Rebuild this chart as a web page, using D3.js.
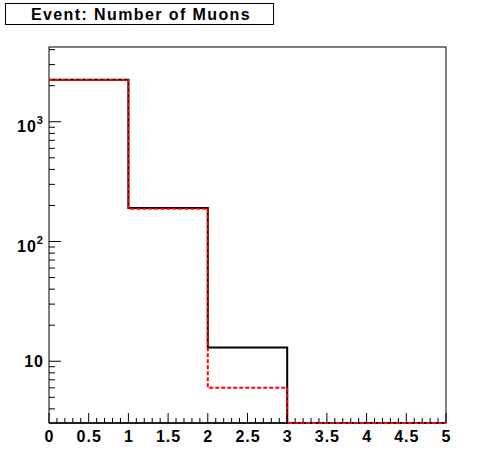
<!DOCTYPE html>
<html>
<head>
<meta charset="utf-8">
<script src="https://cdn.jsdelivr.net/npm/d3@7"></script>
<style>
  body { margin: 0; background: #fff; }
  svg { display: block; font-family: "Liberation Sans", Arial, Helvetica, sans-serif; }
</style>
</head>
<body>
<div id="viz"></div>
<script>
// histogram data
const binEdges = [0, 1, 2, 3, 4, 5]
const blackCounts = [2245, 190, 13, 0, 0]
const redCounts = [2230, 188, 6, 0, 0]
const xTickLabels = ["0", "0.5", "1", "1.5", "2", "2.5", "3", "3.5", "4", "4.5", "5"]
const yLabelled = [10, 100, 1000]

const width = 496, height = 472
const frame = { left: 49, right: 446, top: 47, bottom: 423 }

const svg = d3.select("#viz").append("svg")
  .attr("width", width)
  .attr("height", height)

const x = d3.scaleLinear().domain([0, 5]).range([frame.left, frame.right])
const y = d3.scaleLog().domain([3.05, 4210]).range([frame.bottom, frame.top])

// frame
svg.append("rect")
  .attr("x", frame.left).attr("y", frame.top)
  .attr("width", frame.right - frame.left).attr("height", frame.bottom - frame.top)
  .attr("fill", "none").attr("stroke", "#000").attr("stroke-width", 1)
svg.append("line")
  .attr("x1", frame.left).attr("x2", frame.right)
  .attr("y1", frame.bottom).attr("y2", frame.bottom)
  .attr("stroke", "#000").attr("stroke-width", 1.5)

// step path for a histogram (starts at top of first bin, like root)
function histPath(counts) {
  const ymin = y.domain()[0]
  const p = d3.path()
  counts.forEach((c, i) => {
    const v = Math.max(c, ymin)
    if (i === 0) p.moveTo(x(binEdges[i]), y(v))
    else p.lineTo(x(binEdges[i]), y(v))
    p.lineTo(x(binEdges[i + 1]), y(v))
  })
  return p.toString()
}

svg.append("path")
  .attr("d", histPath(blackCounts))
  .attr("fill", "none").attr("stroke", "#000").attr("stroke-width", 2)

svg.append("path")
  .attr("d", histPath(redCounts))
  .attr("fill", "none").attr("stroke", "#ff0000").attr("stroke-width", 2)
  .attr("stroke-dasharray", "4,2")

// x axis ticks (major every 0.5, minor every 0.1)
const xg = svg.append("g")
d3.range(0, 51).forEach(i => {
  const v = i / 10
  const len = i % 5 === 0 ? 10 : 5
  xg.append("line")
    .attr("x1", x(v)).attr("x2", x(v))
    .attr("y1", frame.bottom).attr("y2", frame.bottom - len)
    .attr("stroke", "#000").attr("stroke-width", 1)
})
xTickLabels.forEach(t => {
  xg.append("text")
    .attr("x", x(+t) + 0.5).attr("y", frame.bottom + 19)
    .attr("text-anchor", "middle")
    .attr("font-size", 16).attr("font-weight", "bold")
    .attr("letter-spacing", 1)
    .text(t)
})

// y axis ticks (log)
const yg = svg.append("g")
const [ylo, yhi] = y.domain()
for (let dec = 1; dec <= 1000; dec *= 10) {
  for (let m = 1; m <= 9; m++) {
    const v = m * dec
    if (v < ylo || v > yhi) continue
    const len = m === 1 ? 12 : 6
    yg.append("line")
      .attr("x1", frame.left).attr("x2", frame.left + len)
      .attr("y1", y(v)).attr("y2", y(v))
      .attr("stroke", "#000").attr("stroke-width", 1)
  }
}
yLabelled.forEach(v => {
  const t = yg.append("text")
    .attr("font-size", 16).attr("font-weight", "bold")
    .attr("letter-spacing", 1)
  if (v === 10) {
    t.attr("x", 44).attr("y", y(v) + 5.5)
      .attr("text-anchor", "end")
      .text("10")
  } else {
    const ex = Math.round(Math.log10(v))
    t.attr("x", 17).attr("y", y(v) + 10)
    t.append("tspan").text("10")
    t.append("tspan").attr("font-size", 11).attr("dy", -8).text(ex)
  }
})

// title box
svg.append("rect")
  .attr("x", 5.5).attr("y", 3.5).attr("width", 268).attr("height", 21)
  .attr("fill", "#fff").attr("stroke", "#000").attr("stroke-width", 1)
svg.append("text")
  .attr("x", 141).attr("y", 20)
  .attr("text-anchor", "middle")
  .attr("font-size", 16).attr("font-weight", "bold")
  .attr("letter-spacing", 1.4)
  .text("Event: Number of Muons")
</script>
</body>
</html>
